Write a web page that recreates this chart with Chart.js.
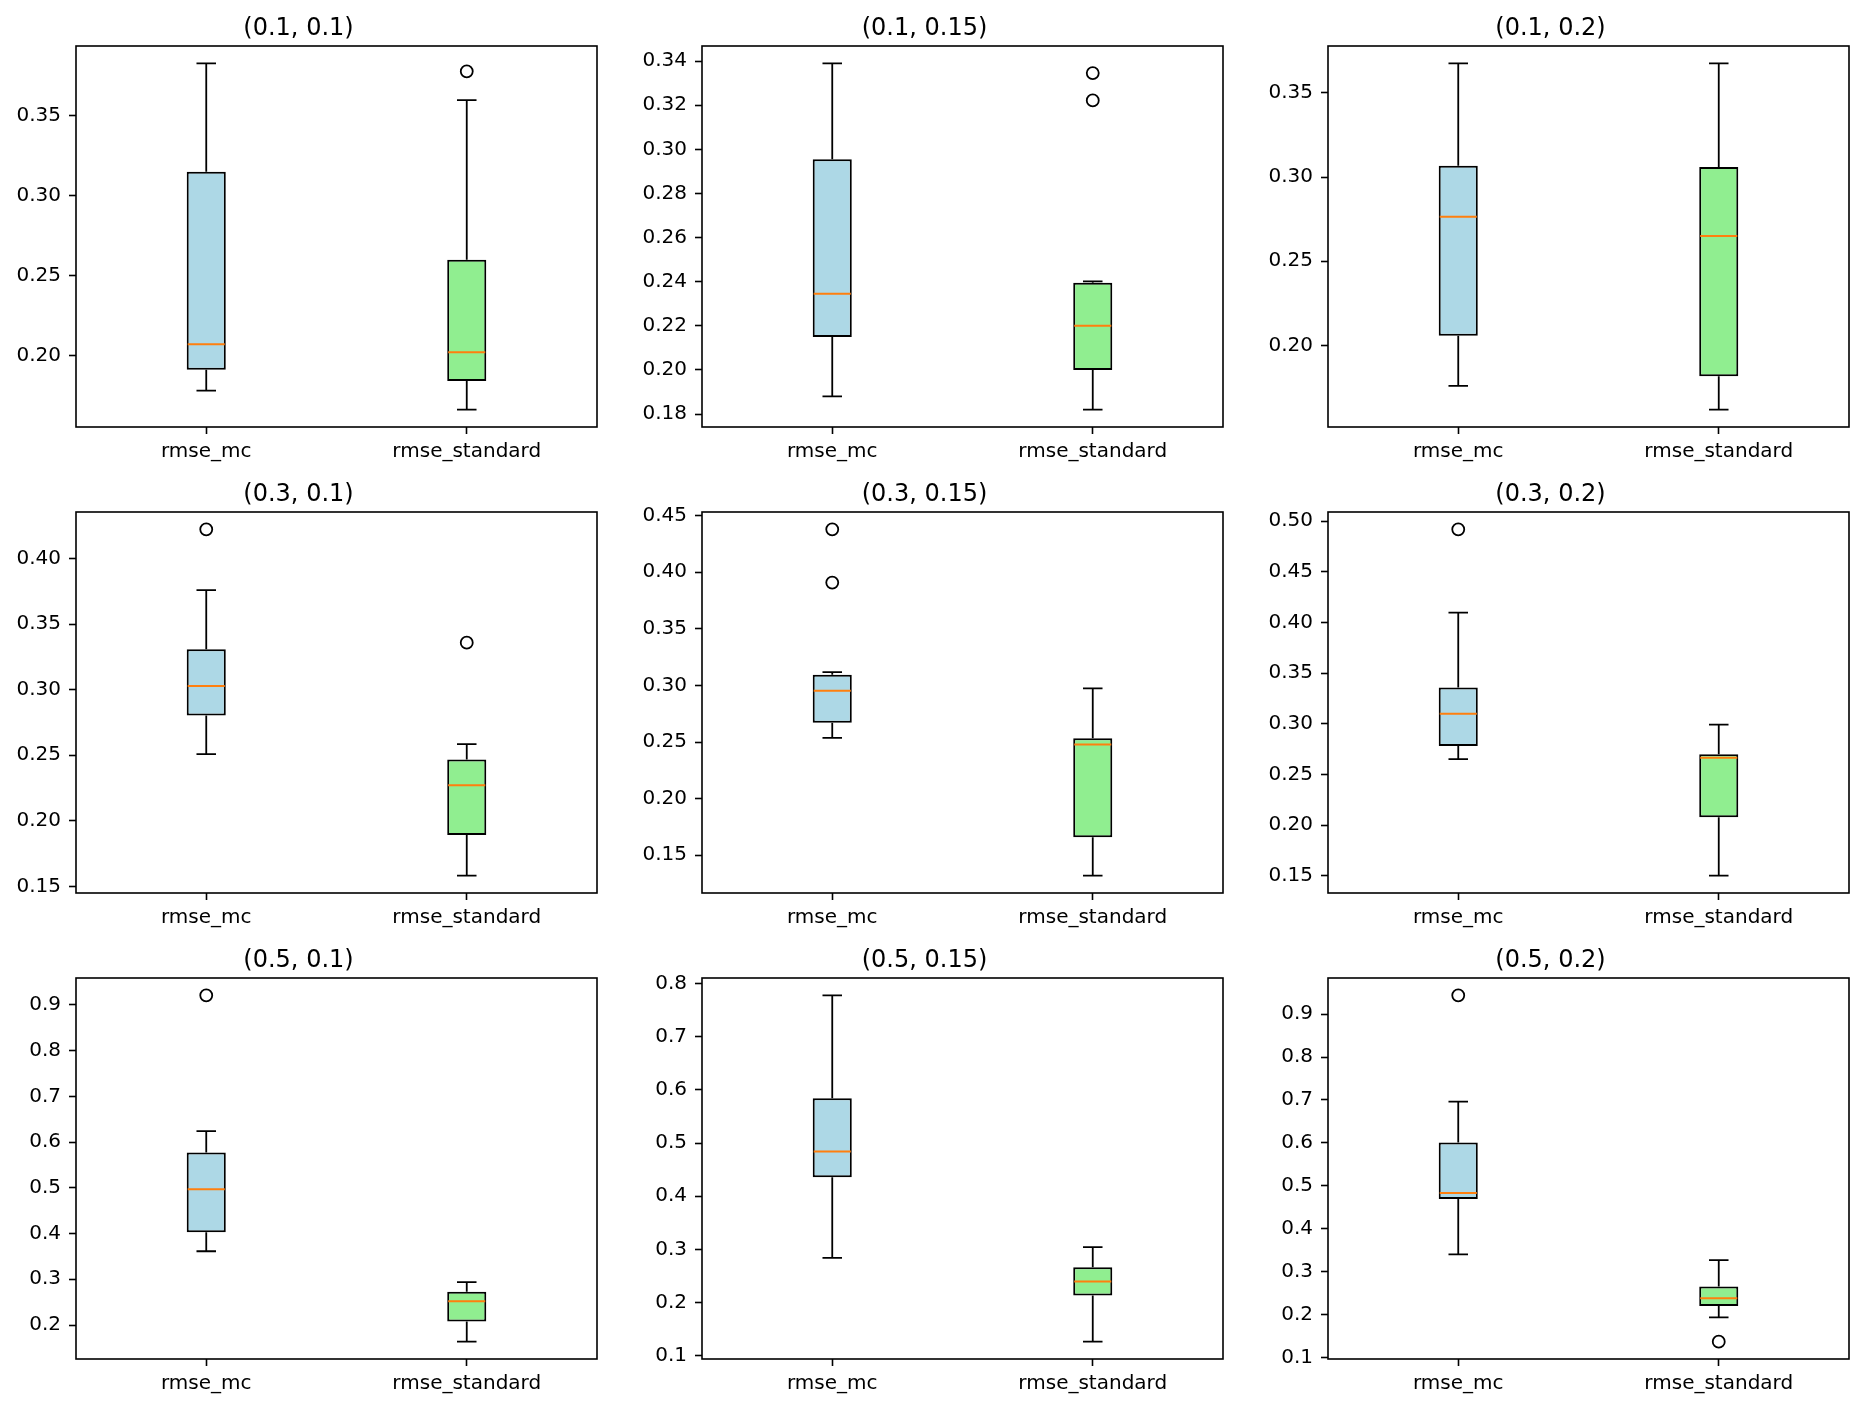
<!DOCTYPE html>
<html>
<head>
<meta charset="utf-8">
<script src="https://cdn.jsdelivr.net/npm/chart.js@4"></script>
<style>
  html, body { margin: 0; padding: 0; background: #fff; }
  #grid { position: relative; width: 1864px; height: 1410px; background: #fff; }
  .cell { position: absolute; }
</style>
</head>
<body>
<div id="grid"></div>
<script>
const panelTitles = ["(0.1, 0.1)", "(0.1, 0.15)", "(0.1, 0.2)",
                     "(0.3, 0.1)", "(0.3, 0.15)", "(0.3, 0.2)",
                     "(0.5, 0.1)", "(0.5, 0.15)", "(0.5, 0.2)"];
const boxLabels = ["rmse_mc", "rmse_standard"];
const boxColors = ["#add8e6", "#90ee90"];

// [whisker low, q1, median, q3, whisker high]
const mcStats = [
  [0.178, 0.191, 0.207, 0.315, 0.383],
  [0.188, 0.215, 0.2346, 0.2955, 0.339],
  [0.176, 0.2057, 0.2764, 0.3068, 0.3676],
  [0.2508, 0.2802, 0.3028, 0.3308, 0.3758],
  [0.2537, 0.267, 0.2953, 0.3094, 0.3118],
  [0.265, 0.278, 0.3097, 0.3356, 0.4096],
  [0.3613, 0.403, 0.4966, 0.5773, 0.624],
  [0.2844, 0.4356, 0.4844, 0.5844, 0.7778],
  [0.340, 0.469, 0.483, 0.601, 0.696]
];
const stdStats = [
  [0.166, 0.184, 0.202, 0.260, 0.360],
  [0.182, 0.200, 0.220, 0.2395, 0.2402],
  [0.1618, 0.1816, 0.265, 0.306, 0.3676],
  [0.1582, 0.1893, 0.2271, 0.2468, 0.2584],
  [0.132, 0.1659, 0.2478, 0.2534, 0.2974],
  [0.150, 0.2076, 0.2663, 0.2698, 0.299],
  [0.1636, 0.2078, 0.252, 0.2729, 0.2937],
  [0.1267, 0.2133, 0.24, 0.2667, 0.3044],
  [0.1934, 0.2198, 0.2377, 0.265, 0.3265]
];
const mcOutliers = [[], [], [], [0.4222], [0.3908, 0.4378], [0.4918], [0.9208], [], [0.944]];
const stdOutliers = [[0.378], [0.3222, 0.3346], [], [0.3358], [], [], [], [], [0.1366]];

const yTicks = [
  [0.20, 0.25, 0.30, 0.35],
  [0.18, 0.20, 0.22, 0.24, 0.26, 0.28, 0.30, 0.32, 0.34],
  [0.20, 0.25, 0.30, 0.35],
  [0.15, 0.20, 0.25, 0.30, 0.35, 0.40],
  [0.15, 0.20, 0.25, 0.30, 0.35, 0.40, 0.45],
  [0.15, 0.20, 0.25, 0.30, 0.35, 0.40, 0.45, 0.50],
  [0.2, 0.3, 0.4, 0.5, 0.6, 0.7, 0.8, 0.9],
  [0.1, 0.2, 0.3, 0.4, 0.5, 0.6, 0.7, 0.8],
  [0.1, 0.2, 0.3, 0.4, 0.5, 0.6, 0.7, 0.8, 0.9]
];
const tickDecimals = [2, 2, 2, 2, 2, 2, 1, 1, 1];

// layout of the 3x3 grid (px)
const AX_W = 521, AX_H = 381;
const Y_AXIS_W = 76, TITLE_H = 46, X_AXIS_H = 50, RIGHT_PAD = 3;
const COL_STEP = 626, ROW_STEP = 466;

const FONT = "'DejaVu Sans', 'Liberation Sans', sans-serif";

// whiskers, caps, medians and the axes frame, all through the chart scales
const boxPlugin = {
  id: "boxPlot",
  beforeDatasetsDraw(chart) {
    const { ctx } = chart;
    const y = chart.scales.y;
    const bars = chart.getDatasetMeta(0).data;
    const stats = chart.options.plugins.boxPlot.stats;
    ctx.save();
    ctx.strokeStyle = "#000";
    ctx.lineWidth = 1.8;
    stats.forEach((s, i) => {
      const bar = bars[i];
      const cx = bar.x;
      const half = bar.width / 4;
      const yLo = y.getPixelForValue(s[0]);
      const yQ1 = y.getPixelForValue(s[1]);
      const yQ3 = y.getPixelForValue(s[3]);
      const yHi = y.getPixelForValue(s[4]);
      ctx.beginPath();
      ctx.moveTo(cx, yQ1); ctx.lineTo(cx, yLo);
      ctx.moveTo(cx, yQ3); ctx.lineTo(cx, yHi);
      ctx.moveTo(cx - half, yLo); ctx.lineTo(cx + half, yLo);
      ctx.moveTo(cx - half, yHi); ctx.lineTo(cx + half, yHi);
      ctx.stroke();
    });
    ctx.restore();
  },
  afterDatasetsDraw(chart) {
    const { ctx, chartArea } = chart;
    const y = chart.scales.y;
    const bars = chart.getDatasetMeta(0).data;
    const stats = chart.options.plugins.boxPlot.stats;
    ctx.save();
    ctx.strokeStyle = "#ff7f0e";
    ctx.lineWidth = 2;
    stats.forEach((s, i) => {
      const bar = bars[i];
      const ym = y.getPixelForValue(s[2]);
      ctx.beginPath();
      ctx.moveTo(bar.x - bar.width / 2 + 1, ym);
      ctx.lineTo(bar.x + bar.width / 2 - 1, ym);
      ctx.stroke();
    });
    ctx.strokeStyle = "#000";
    ctx.lineWidth = 1.6;
    ctx.strokeRect(chartArea.left, chartArea.top,
                   chartArea.right - chartArea.left, chartArea.bottom - chartArea.top);
    ctx.restore();
  }
};

const grid = document.getElementById("grid");

panelTitles.forEach((title, p) => {
  const row = Math.floor(p / 3), col = p % 3;
  const cell = document.createElement("div");
  cell.className = "cell";
  cell.style.left = (col * COL_STEP) + "px";
  cell.style.top = (row * ROW_STEP) + "px";
  cell.style.width = (Y_AXIS_W + AX_W + RIGHT_PAD) + "px";
  cell.style.height = (TITLE_H + AX_H + X_AXIS_H) + "px";
  const canvas = document.createElement("canvas");
  cell.appendChild(canvas);
  grid.appendChild(cell);

  const stats = [mcStats[p], stdStats[p]];
  const outliers = [mcOutliers[p], stdOutliers[p]];

  // matplotlib-style autoscale: data range plus 5% margins
  const all = stats.flat().concat(outliers.flat());
  const lo = Math.min(...all), hi = Math.max(...all);
  const margin = (hi - lo) * 0.05;

  const outlierPoints = [];
  outliers.forEach((vals, i) => vals.forEach(v => outlierPoints.push({ x: boxLabels[i], y: v })));

  new Chart(canvas.getContext("2d"), {
    type: "bar",
    data: {
      labels: boxLabels,
      datasets: [
        {
          label: "box",
          data: stats.map(s => [s[1], s[3]]),
          backgroundColor: boxColors,
          borderColor: "#000",
          borderWidth: 2,
          borderSkipped: false,
          barPercentage: 0.15,
          categoryPercentage: 1.0,
          grouped: false
        },
        {
          type: "line",
          label: "outliers",
          data: outlierPoints,
          showLine: false,
          pointStyle: "circle",
          pointRadius: 6,
          pointBorderWidth: 1.8,
          pointBorderColor: "#000",
          pointBackgroundColor: "rgba(0,0,0,0)"
        }
      ]
    },
    options: {
      responsive: true,
      maintainAspectRatio: false,
      animation: false,
      layout: { autoPadding: false, padding: { top: 0, right: RIGHT_PAD, bottom: 0, left: 0 } },
      plugins: {
        legend: { display: false },
        tooltip: { enabled: false },
        title: {
          display: true,
          text: title,
          color: "#000",
          font: { family: FONT, size: 24, weight: "normal", lineHeight: "29px" },
          padding: { top: 14, bottom: 3 }
        },
        boxPlot: { stats }
      },
      scales: {
        x: {
          type: "category",
          offset: true,
          grid: { display: true, offset: false, drawOnChartArea: false, drawTicks: true,
                  tickLength: 7, tickWidth: 1.6, tickColor: "#000" },
          border: { display: false },
          ticks: { color: "#000", font: { family: FONT, size: 20 }, padding: 6, maxRotation: 0 },
          afterFit(scale) { scale.height = X_AXIS_H; }
        },
        y: {
          type: "linear",
          min: lo - margin,
          max: hi + margin,
          grid: { display: true, drawOnChartArea: false, drawTicks: true,
                  tickLength: 7, tickWidth: 1.6, tickColor: "#000" },
          border: { display: false },
          ticks: {
            color: "#000",
            font: { family: FONT, size: 20 },
            padding: 8,
            callback: v => Number(v).toFixed(tickDecimals[p])
          },
          afterBuildTicks(scale) { scale.ticks = yTicks[p].map(v => ({ value: v })); },
          afterFit(scale) { scale.width = Y_AXIS_W; }
        }
      }
    },
    plugins: [boxPlugin]
  });
});
</script>
</body>
</html>
